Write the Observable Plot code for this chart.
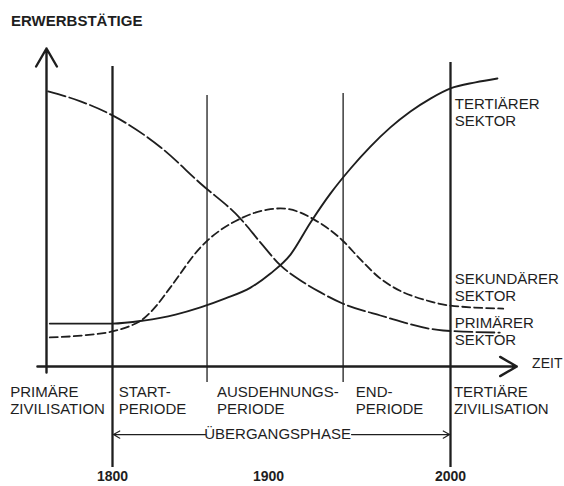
<!DOCTYPE html>
<html><head><meta charset="utf-8">
<script src="https://cdn.jsdelivr.net/npm/d3@7"></script>
<script src="https://cdn.jsdelivr.net/npm/@observablehq/plot@0.6"></script>
<style>body{margin:0;background:#fff} svg{display:block}</style>
</head><body><div id="chart"></div>
<script>
// ---- data (years, share of employment in arbitrary units 0..100) ----
const primaryYears   = [1761, 1781, 1800, 1831, 1856.4, 1882, 1894.9, 1906.6, 1917.6, 1928.6, 1940.7, 1961.5, 1996, 2029];
const primaryShare   = [91.7, 88.3, 83.7, 73.0, 61.0, 49.3, 41.3, 33.7, 28.7, 24.7, 21.0, 17.0, 12.0, 11.3];
const secondaryYears = [1762, 1781, 1800, 1810.3, 1820, 1828.2, 1837, 1856.4, 1882, 1899.4, 1906.6, 1917.6, 1924.2, 1940.7, 1950.5, 1961.5, 1969, 1987, 2000, 2031];
const secondaryShare = [9.7, 10.3, 11.7, 13.3, 16.0, 20.3, 26.3, 39.7, 49.3, 52.3, 52.7, 51.3, 49.3, 42.0, 35.7, 29.3, 26.3, 22.0, 20.3, 19.3];
const tertiaryYears  = [1762, 1800, 1819.9, 1840.4, 1856.4, 1872.4, 1888.5, 1901.1, 1912.1, 1923.1, 1934.1, 1945.1, 1956.0, 1967.0, 1978.0, 1989.0, 2000, 2014.7, 2027.6];
const tertiaryShare  = [14.3, 14.3, 15.3, 17.3, 19.7, 22.7, 26.3, 31.0, 37.3, 48.0, 57.7, 66.0, 73.3, 79.7, 85.0, 89.3, 92.7, 94.7, 96.0];

const periodBoundaries = [1800, 1860.6, 1941, 2000];
const periodLabels = ["PRIMÄRE\nZIVILISATION", "START-\nPERIODE", "AUSDEHNUNGS-\nPERIODE", "END-\nPERIODE", "TERTIÄRE\nZIVILISATION"];
const periodLabelYears = [1738, 1804, 1867, 1948, 2002];
const sectorLabels = ["TERTIÄRER\nSEKTOR", "SEKUNDÄRER\nSEKTOR", "PRIMÄRER\nSEKTOR"];
const sectorLabelLevels = [84.7, 26.5, 11.7];
const tickYears = [1800, 1900, 2000];
const transitionLabel = "ÜBERGANGSPHASE";

// ---- build ----
const zip = (xs, ys) => xs.map((x, i) => ({x, y: ys[i]}));
const ink = "#1e1e1e";
const font = "'Liberation Sans', Arial, sans-serif";

const plot = Plot.plot({
  width: 564, height: 486, margin: 0,
  style: {background: "#fff", fontFamily: font, color: ink},
  x: {type: "linear", domain: [1760, 1800, 1900, 2000, 2040], range: [46, 112, 268, 450, 518], axis: null},
  y: {type: "linear", domain: [0, 100], range: [366, 66], axis: null},
  marks: [
    // period boundary lines
    Plot.ruleX([periodBoundaries[0], periodBoundaries[3]], {y1: -33.7, y2: d => d === 2000 ? 101.3 : 100, stroke: ink, strokeWidth: 2.3}),
    Plot.ruleX([periodBoundaries[1], periodBoundaries[2]], {y1: -5.3, y2: d => d > 1900 ? 91 : 90.3, stroke: ink, strokeWidth: 1.3}),
    // axes
    Plot.arrow([{}], {x1: 1760, y1: -2, x2: 1760, y2: 106, stroke: ink, strokeWidth: 2.4, headLength: 13}),
    Plot.arrow([{}], {x1: 1754.5, y1: 0, x2: 2039, y2: 0, stroke: ink, strokeWidth: 2.4, headLength: 12}),
    // curves
    Plot.line(zip(primaryYears, primaryShare), {x: "x", y: "y", curve: "monotone-x", stroke: ink, strokeWidth: 1.8, strokeDasharray: "18,4"}),
    Plot.line(zip(secondaryYears, secondaryShare), {x: "x", y: "y", curve: "monotone-x", stroke: ink, strokeWidth: 1.8, strokeDasharray: "8,4"}),
    Plot.line(zip(tertiaryYears, tertiaryShare), {x: "x", y: "y", curve: "monotone-x", stroke: ink, strokeWidth: 1.9}),
    // transition arrows
    Plot.arrow([{}], {x1: 1859.6, y1: -22.7, x2: 1800.6, y2: -22.7, stroke: ink, strokeWidth: 1.1, headLength: 10}),
    Plot.arrow([{}], {x1: 1945.6, y1: -22.7, x2: 1999.5, y2: -22.7, stroke: ink, strokeWidth: 1.1, headLength: 10}),
    Plot.text([transitionLabel], {x: 1905, y: -22.7, text: d => d, fontSize: 15, fill: ink}),
    // labels
    Plot.text(["ERWERBSTÄTIGE"], {x: 1738.5, y: 115, text: d => d, textAnchor: "start", fontSize: 15, fontWeight: "bold", fill: ink}),
    Plot.text(["ZEIT"], {x: 2048, y: 1, text: d => d, textAnchor: "start", fontSize: 14, fill: ink}),
    Plot.text(periodLabels, {x: (d, i) => periodLabelYears[i], y: -11.2, text: d => d, textAnchor: "start", lineAnchor: "middle", lineHeight: 1.13, fontSize: 15, fill: ink}),
    Plot.text(sectorLabels, {x: 2002.5, y: (d, i) => sectorLabelLevels[i], text: d => d, textAnchor: "start", lineAnchor: "middle", lineHeight: 1.12, fontSize: 15, fill: ink}),
    Plot.text(tickYears, {x: d => d, y: -36.7, text: d => String(d), fontSize: 14, fontWeight: "bold", fill: ink})
  ]
});
document.getElementById("chart").appendChild(plot);
</script>
</body></html>
